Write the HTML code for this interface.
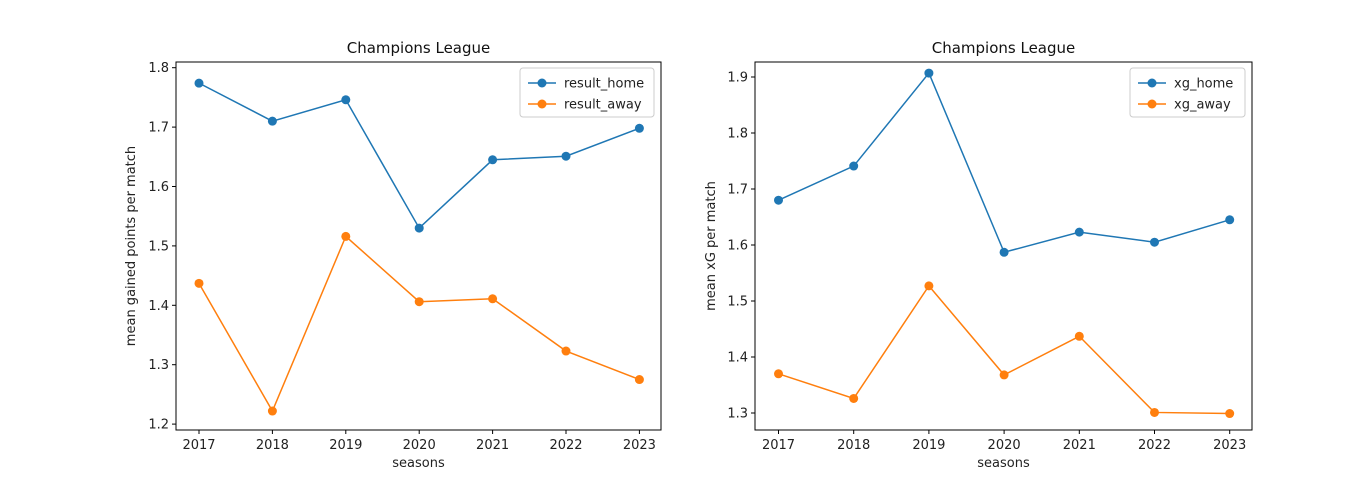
<!DOCTYPE html>
<html><head><meta charset="utf-8"><style>
body{margin:0;background:#fff;}
svg{display:block;font-family:"DejaVu Sans","Liberation Sans",sans-serif;}
</style></head><body>
<svg id="c" width="1366" height="498" viewBox="0 0 1366 498"></svg>
<script>
const seasons=["2017","2018","2019","2020","2021","2022","2023"];
const resultHome=[1.774,1.710,1.746,1.530,1.645,1.651,1.698];
const resultAway=[1.437,1.222,1.516,1.406,1.411,1.323,1.275];
const xgHome=[1.680,1.741,1.907,1.587,1.623,1.605,1.645];
const xgAway=[1.370,1.326,1.527,1.368,1.437,1.301,1.299];
const leftTicks=[1.2,1.3,1.4,1.5,1.6,1.7,1.8];
const rightTicks=[1.3,1.4,1.5,1.6,1.7,1.8,1.9];
const NS="http://www.w3.org/2000/svg";
const svg=document.getElementById('c');
function mk(t,a,p){const e=document.createElementNS(NS,t);for(const k in a)e.setAttribute(k,a[k]);(p||svg).appendChild(e);return e;}
function panel(cfg){
  const g=mk('g',{});
  
  
  const xs=i=>cfg.x0+i*cfg.dx;
  const ys=v=>cfg.yRef-(v-cfg.vRef)*cfg.k;
  // ticks
  cfg.ticks.forEach(t=>{
    const y=ys(t);
    const l=mk('line',{x1:cfg.L-4,x2:cfg.L,y1:y,y2:y,stroke:'#000','stroke-width':1},g);
    
    const tx=mk('text',{x:cfg.L-7,y:y+4.5,'text-anchor':'end','font-size':13,fill:'#222'},g);
    tx.textContent=t.toFixed(1);
    
  });
  seasons.forEach((s,i)=>{
    const x=xs(i);
    const l=mk('line',{x1:x,x2:x,y1:cfg.B,y2:cfg.B+4,stroke:'#000','stroke-width':1},g);
    
    const tx=mk('text',{x:x,y:cfg.B+19,'text-anchor':'middle','font-size':13,fill:'#222'},g);
    tx.textContent=s;
    
  });
  const series=[[cfg.home,'#1f77b4',cfg.names[0]],[cfg.away,'#ff7f0e',cfg.names[1]]];
  series.forEach(([d,c,n])=>{
    const p=mk('polyline',{points:d.map((v,i)=>xs(i)+','+ys(v)).join(' '),fill:'none',stroke:c,'stroke-width':1.5},g);
    
    d.forEach((v,i)=>{
      const m=mk('circle',{cx:xs(i),cy:ys(v),r:4.5,fill:c},g);
      
    });
  });
  const fr=mk('rect',{x:cfg.L,y:cfg.T,width:cfg.R-cfg.L,height:cfg.B-cfg.T,fill:'none',stroke:'#000','stroke-width':1},g);
  
  const ti=mk('text',{x:(cfg.L+cfg.R)/2,y:cfg.T-9,'text-anchor':'middle','font-size':15,fill:'#111'},g);
  ti.textContent='Champions League';
  
  const xl=mk('text',{x:(cfg.L+cfg.R)/2,y:cfg.B+37,'text-anchor':'middle','font-size':13,fill:'#222'},g);
  xl.textContent='seasons';
  
  const cy=(cfg.T+cfg.B)/2;
  const yl=mk('text',{x:cfg.ylx,y:cy,'text-anchor':'middle','font-size':13,fill:'#222',transform:`rotate(-90 ${cfg.ylx} ${cy})`},g);
  yl.textContent=cfg.ylabel;
  
  // legend
  const lg=mk('g',{},g);
  
  mk('rect',{x:cfg.lgx,y:cfg.T+6,width:cfg.lgw,height:49,rx:3,fill:'#fff',stroke:'#ccc','stroke-width':1},lg);
  series.forEach(([d,c,n],j)=>{
    const y=cfg.T+21+j*21;
    const e=mk('g',{},lg);
    
    mk('line',{x1:cfg.lgx+8,x2:cfg.lgx+36,y1:y,y2:y,stroke:c,'stroke-width':1.5},e);
    mk('circle',{cx:cfg.lgx+22,cy:y,r:4.5,fill:c},e);
    const t=mk('text',{x:cfg.lgx+44,y:y+4.5,'font-size':13,fill:'#222'},e);
    t.textContent=n;
  });
}
panel({name:'left-chart',L:176,R:661,T:62,B:430,x0:199,dx:73.4,yRef:67.7,vRef:1.8,k:594,
  ticks:leftTicks,home:resultHome,away:resultAway,names:['result_home','result_away'],
  ylabel:'mean gained points per match',ylx:135,lgx:520,lgw:134});
panel({name:'right-chart',L:755,R:1252,T:62,B:430,x0:778.5,dx:75.2,yRef:413,vRef:1.3,k:560,
  ticks:rightTicks,home:xgHome,away:xgAway,names:['xg_home','xg_away'],
  ylabel:'mean xG per match',ylx:715,lgx:1130,lgw:115});
</script>
</body></html>
